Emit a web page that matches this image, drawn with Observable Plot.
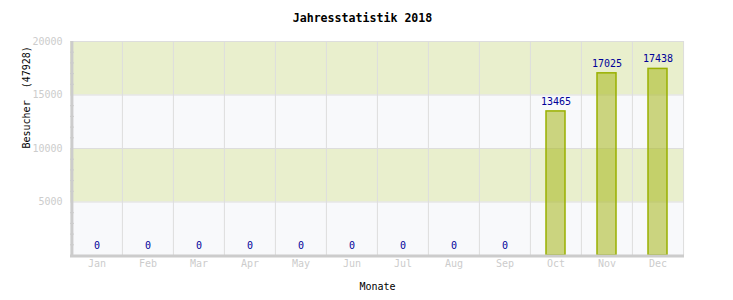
<!DOCTYPE html>
<html><head><meta charset="utf-8">
<script src="https://cdn.jsdelivr.net/npm/d3@7"></script>
<script src="https://cdn.jsdelivr.net/npm/@observablehq/plot@0.6"></script>
<style>body{margin:0;background:#fff} svg text{white-space:pre}</style>
</head><body><div id="chart"></div>
<script>
const months = ["Jan","Feb","Mar","Apr","May","Jun","Jul","Aug","Sep","Oct","Nov","Dec"];
const visitors = [0,0,0,0,0,0,0,0,0,13465,17025,17438];
const yTicks = [5000,10000,15000,20000];
const bandStarts = [0,5000,10000,15000];
const title = "Jahresstatistik 2018";
const yLabel = "Besucher\u00a0 (47928)";
const xLabel = "Monate";

const data = months.map((m,i)=>({month:m, value:visitors[i]}));
const W=733,H=300, mL=70, mR=49, mT=41, mB=45;
const step = (W-mL-mR)/months.length;
const minor = d3.range(1000,20000,1000).filter(v=>v%5000);
const bands = bandStarts.map((s,i)=>({y1:s, y2: i+1<bandStarts.length ? bandStarts[i+1] : 20000, fill: i%2 ? "#e9efcd" : "#f8f9fb"}));
const font = "'DejaVu Sans Mono', monospace";

const chart = Plot.plot({
  width:W, height:H, marginLeft:mL, marginRight:mR, marginTop:mT, marginBottom:mB,
  style:{fontFamily:font, fontSize:"10px", background:"#fff", color:"#000"},
  x:{type:"band", domain:months, padding:0, label:null},
  y:{domain:[0,20000], label:null},
  marks:[
    Plot.barY(bands,{y1:"y1", y2:"y2", fill:"fill"}),
    Plot.ruleY(yTicks,{stroke:"#dddddd"}),
    Plot.ruleX(months.slice(1),{x:d=>d, dx:-step/2, stroke:"#dddddd"}),
    Plot.ruleX(["Dec"],{x:d=>d, dx:step/2, stroke:"#dddddd"}),
    Plot.axisY({ticks:minor, tickSize:-4, tickFormat:()=>"", stroke:"#cccccc", label:null}),
    Plot.axisY({ticks:yTicks, tickSize:0, tickPadding:8, tickFormat:d3.format("d"), fill:"#cccccc", label:null}),
    Plot.axisX({tickSize:0, tickPadding:4, fill:"#cccccc", label:null}),
    Plot.barY(data.filter(d=>d.value>0),{x:"month", y:"value", fill:"#a6b719", fillOpacity:0.55, stroke:"#99b000", strokeWidth:1.5, insetLeft:16, insetRight:16}),
    Plot.ruleX(["Jan"],{x:d=>d, dx:-step/2+0.5, stroke:"#cccccc", strokeWidth:3}),
    Plot.ruleY([0],{stroke:"#cccccc", strokeWidth:3, dy:0.5}),
    Plot.text(data,{x:"month", y:"value", text:d=>String(d.value), dy:-10, fill:"#000099"}),
    Plot.text([title],{frameAnchor:"top", dy:-28, dx:-15, fontWeight:"bold", fontSize:11.6, fill:"#000"}),
    Plot.text([yLabel],{frameAnchor:"left", dx:-44, rotate:-90, fill:"#000"}),
    Plot.text([xLabel],{frameAnchor:"bottom", dy:34, fill:"#000"})
  ]
});
document.getElementById("chart").appendChild(chart);
</script>
</body></html>
